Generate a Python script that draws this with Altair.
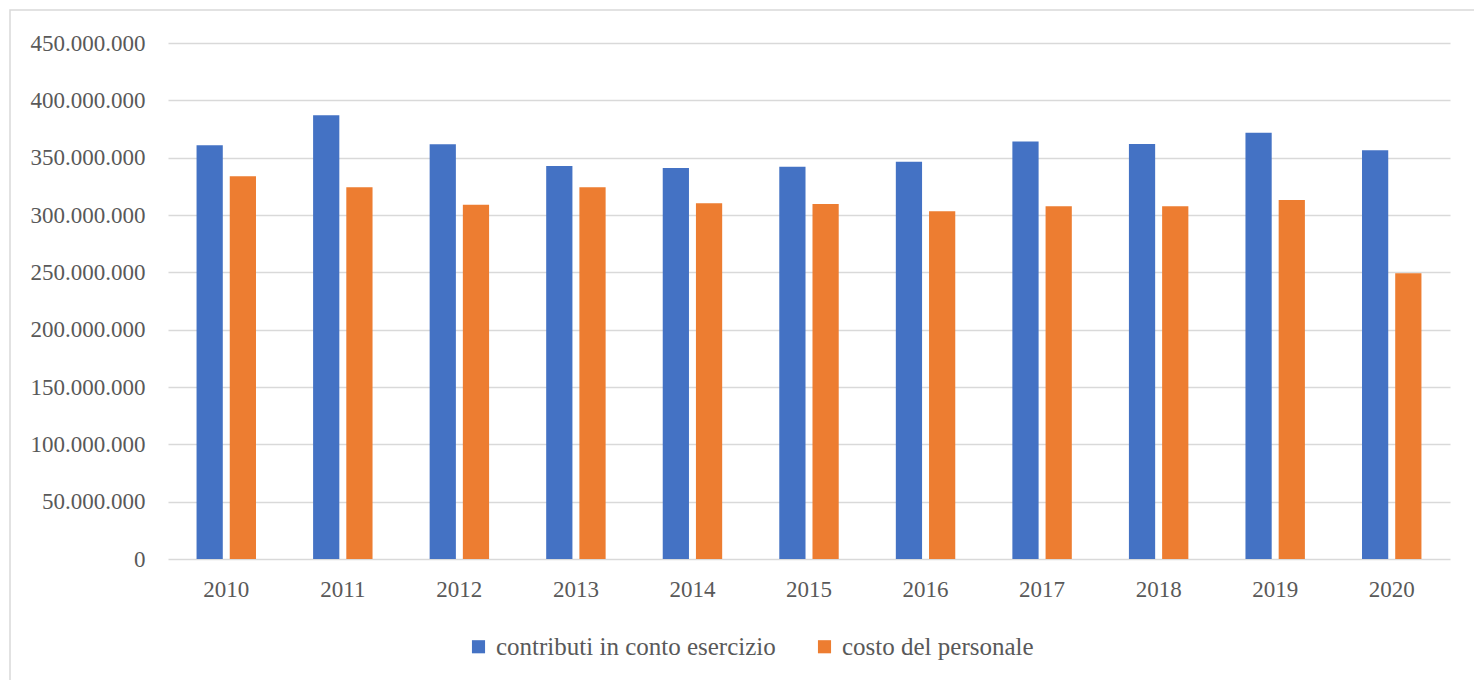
import altair as alt
import pandas as pd

# Annual figures (euro)
anni = ["2010", "2011", "2012", "2013", "2014", "2015", "2016", "2017", "2018", "2019", "2020"]
contributi = [360800000, 386900000, 361600000, 342700000, 341000000, 342000000,
              346500000, 364000000, 362000000, 371800000, 356400000]
personale = [333700000, 324100000, 309000000, 324100000, 310300000, 309500000,
             303300000, 307600000, 307600000, 313000000, 249200000]
serie = ["contributi in conto esercizio", "costo del personale"]
colori = ["#4472C4", "#ED7D31"]
tick_y = [0, 50000000, 100000000, 150000000, 200000000, 250000000,
          300000000, 350000000, 400000000, 450000000]

rows = []
for a, c, p in zip(anni, contributi, personale):
    rows.append({"anno": a, "serie": serie[0], "valore": c})
    rows.append({"anno": a, "serie": serie[1], "valore": p})
df = pd.DataFrame(rows)

FONT = "'Liberation Serif', 'Times New Roman', serif"
GREY = "#595959"
GRID = "#d9d9d9"

W, H = 1282, 516
LEFT, TOP = 168, 43

bars = alt.Chart(df).mark_bar().encode(
    x=alt.X(
        "anno:N",
        sort=anni,
        scale=alt.Scale(paddingInner=0.49, paddingOuter=0.245),
        axis=alt.Axis(title=None, labelAngle=0, domain=False, ticks=False,
                      labelPadding=19, labelFontSize=23, labelFont=FONT,
                      labelColor=GREY, grid=False),
    ),
    xOffset=alt.XOffset("serie:N", sort=serie,
                        scale=alt.Scale(paddingInner=0.21, paddingOuter=0)),
    y=alt.Y(
        "valore:Q",
        scale=alt.Scale(domain=[0, 450000000], nice=False),
        axis=alt.Axis(title=None, values=tick_y, domain=False, ticks=False,
                      labelPadding=23, labelFontSize=23, labelFont=FONT,
                      labelColor=GREY, gridColor=GRID, gridWidth=1.5,
                      labelExpr="replace(format(datum.value, ','), regexp(',', 'g'), '.')"),
    ),
    color=alt.Color(
        "serie:N",
        sort=serie,
        scale=alt.Scale(domain=serie, range=colori),
        legend=alt.Legend(title=None, orient="none", direction="horizontal",
                          legendX=298, legendY=591, symbolType="square",
                          symbolSize=172, symbolStrokeWidth=0, labelFont=FONT,
                          labelFontSize=25, labelColor=GREY, labelOffset=5,
                          columnPadding=36, labelLimit=400),
    ),
)

# light frame around the figure
frame = alt.Chart(pd.DataFrame({"k": [0]})).mark_rect(
    filled=False, stroke=GRID, strokeWidth=1.5
).encode(
    x=alt.value(10 - LEFT),
    x2=alt.value(1500 - LEFT),
    y=alt.value(10 - TOP),
    y2=alt.value(720 - TOP),
)

chart = alt.layer(frame, bars).properties(
    width=W,
    height=H,
    autosize=alt.AutoSizeParams(type="none"),
    padding={"left": LEFT, "top": TOP, "right": 1474 - LEFT - W, "bottom": 680 - TOP - H},
    view=alt.ViewBackground(strokeOpacity=0, strokeWidth=0),
).configure_view(strokeOpacity=0, strokeWidth=0).configure(background="white")

chart.save("out.html", embed_options={"renderer": "svg", "actions": False})
